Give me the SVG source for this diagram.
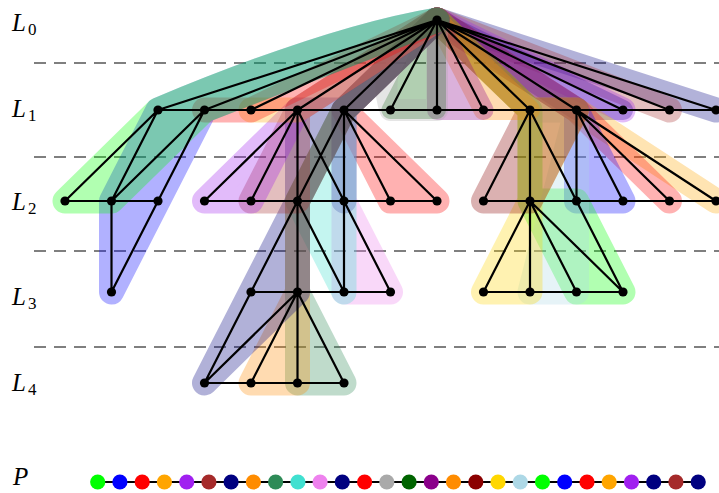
<svg xmlns="http://www.w3.org/2000/svg" width="719" height="493" viewBox="0 0 719 493">
<style>
.b{stroke-width:25;stroke-linejoin:round;stroke-linecap:round;opacity:.3}
.o{fill:none}
.e{stroke:#000;stroke-width:2.2;fill:none;stroke-linecap:round}
.d{stroke:#555;stroke-width:1.4;stroke-dasharray:12 8}
.n{fill:#000}
.lab{font-family:"Liberation Serif",serif;font-style:italic;font-size:25px;fill:#000}
.sub{font-style:normal;font-size:17px}
</style>
<rect width="719" height="493" fill="#fff"/>
<g id="layers">
<line class="d" x1="34" y1="63" x2="719" y2="63"/>
<line class="d" x1="34" y1="157" x2="719" y2="157"/>
<line class="d" x1="34" y1="251" x2="719" y2="251"/>
<line class="d" x1="34" y1="347" x2="719" y2="347"/>
<text class="lab" x="12" y="31">L<tspan class="sub" dx="2" dy="4">0</tspan></text>
<text class="lab" x="12" y="117">L<tspan class="sub" dx="2" dy="4">1</tspan></text>
<text class="lab" x="12" y="210">L<tspan class="sub" dx="2" dy="4">2</tspan></text>
<text class="lab" x="12" y="305">L<tspan class="sub" dx="2" dy="4">3</tspan></text>
<text class="lab" x="12" y="391">L<tspan class="sub" dx="2" dy="4">4</tspan></text>
<text class="lab" x="13" y="485">P</text>
</g>
<g id="branch-sets">
<path class="b o" stroke="#000080" d="M437,20 L716,110"/>
<path class="b o" stroke="#a52a2a" d="M437,20 L669.5,110"/>
<path class="b" stroke="#000080" fill="#000080" style="stroke-width:20" d="M437,20 L623,110 L576.5,110 Z"/>
<path class="b o" stroke="#a020f0" d="M437,20 L623,110"/>
<path class="b o" stroke="#ffa500" d="M437,20 L576.5,110 L716,201"/>
<path class="b o" stroke="#ff0000" d="M437,20 L576.5,110 L669.5,201"/>
<path class="b" stroke="#0000ff" fill="#0000ff" d="M437,20 L576.5,110 Z M576.5,110 L576.5,201 L623,201 Z"/>
<path class="b" stroke="#00ff00" fill="#00ff00" d="M437,20 L530,110 L530,201 L530,110 Z M530,201 L576.5,292 L623,292 L576.5,201 Z"/>
<path class="b" stroke="#add8e6" fill="#add8e6" d="M437,20 L530,110 L576.5,110 L530,110 Z M576.5,110 L530,292 L576.5,292 Z"/>
<path class="b" stroke="#ffd700" fill="#ffd700" d="M437,20 L530,110 Z M530,110 L576.5,110 L530,201 Z M530,201 L483.5,292 L530,292 Z"/>
<path class="b" stroke="#8b0000" fill="#8b0000" d="M437,20 L530,110 Z M530,110 L576.5,110 L530,201 L483.5,201 Z"/>
<path class="b" stroke="#ff8c00" fill="#ff8c00" style="stroke-width:20" d="M437,20 L483.5,110 L530,110 Z"/>
<path class="b" stroke="#8b008b" fill="#8b008b" style="stroke-width:20" d="M437,20 L437,110 L483.5,110 Z"/>
<path class="b" stroke="#006400" fill="#006400" style="stroke-width:18" d="M437,20 L390.5,110 L437,110 Z"/>
<path class="b o" stroke="#a9a9a9" style="stroke-width:22" d="M390.5,110 Q372,55 437,20 L437,110 L390.5,110"/>
<path class="b" stroke="#ff0000" fill="#ff0000" d="M437,20 L344,110 Z M344,110 L390.5,201 L437,201 Z"/>
<path class="b o" stroke="#000080" d="M437,20 L344,110 L344,201"/>
<path class="b" stroke="#ee82ee" fill="#ee82ee" d="M437,20 L344,110 L344,201 L344,110 Z M344,201 L390.5,292 L344,292 Z"/>
<path class="b" stroke="#40e0d0" fill="#40e0d0" d="M437,20 L344,110 Z M344,110 L297.5,201 L344,292 L344,201 Z"/>
<path class="b" stroke="#2e8b57" fill="#2e8b57" d="M437,20 L344,110 L297.5,201 L297.5,292 L297.5,201 L344,110 Z M297.5,292 L297.5,383 L344,383 Z"/>
<path class="b" stroke="#ff8c00" fill="#ff8c00" d="M437,20 L344,110 L297.5,201 L297.5,292 L297.5,201 L344,110 Z M297.5,292 L251,383 L297.5,383 Z"/>
<path class="b" stroke="#000080" fill="#000080" d="M437,20 L344,110 Z M344,110 L297.5,110 L297.5,201 Z M297.5,201 L251,292 L204.5,383 L297.5,292 Z"/>
<path class="b" stroke="#a52a2a" fill="#a52a2a" d="M437,20 L297.5,110 Z M297.5,110 L251,201 L297.5,201 Z"/>
<path class="b" stroke="#a020f0" fill="#a020f0" d="M437,20 L297.5,110 Z M297.5,110 L204.5,201 L251,201 Z"/>
<path class="b o" stroke="#ffa500" d="M437,20 L297.5,110 L251,110"/>
<path class="b o" stroke="#ff0000" d="M437,20 L251,110 L204.5,110"/>
<path class="b" stroke="#0000ff" fill="#0000ff" d="M437,20 Q330,38 158,110 L111.5,201 L111.5,292 L158,201 L204.5,110 Z"/>
<path class="b" stroke="#00ff00" fill="#00ff00" d="M437,20 Q330,38 158,110 L65,201 L111.5,201 L204.5,110 Z"/>
</g>
<g id="connectors">
<path class="e" d="M437,20 L158,110 M437,20 L204.5,110 M437,20 L251,110 M437,20 L297.5,110 M437,20 L344,110 M437,20 L390.5,110 M437,20 L437,110 M437,20 L483.5,110 M437,20 L530,110 M437,20 L576.5,110 M437,20 L623,110 M437,20 L669.5,110 M437,20 L716,110"/>
<path class="e" d="M158,110 L716,110 M65,201 L158,201 M204.5,201 L437,201 M483.5,201 L716,201 M251,292 L390.5,292 M483.5,292 L623,292 M204.5,383 L344,383"/>
<path class="e" d="M158,110 L65,201 M158,110 L111.5,201 M204.5,110 L111.5,201 M204.5,110 L158,201 M297.5,110 L204.5,201 M297.5,110 L251,201 M297.5,110 L297.5,201 M297.5,110 L344,201 M344,110 L297.5,201 M344,110 L344,201 M344,110 L390.5,201 M344,110 L437,201 M530,110 L483.5,201 M530,110 L530,201 M530,110 L576.5,201 M576.5,110 L576.5,201 M576.5,110 L623,201 M576.5,110 L669.5,201 M576.5,110 L716,201"/>
<path class="e" d="M111.5,201 L111.5,292 M158,201 L111.5,292 M297.5,201 L251,292 M297.5,201 L297.5,292 M297.5,201 L344,292 M344,201 L344,292 M344,201 L390.5,292 M530,201 L483.5,292 M530,201 L530,292 M530,201 L576.5,292 M530,201 L623,292 M576.5,201 L623,292"/>
<path class="e" d="M251,292 L204.5,383 M297.5,292 L204.5,383 M297.5,292 L251,383 M297.5,292 L297.5,383 M297.5,292 L344,383"/>
<path class="e" d="M97.7,482 L698.2,482"/>
</g>
<g id="graph-nodes">
<g id="v0"><circle class="n" cx="437" cy="20" r="4.6"/></g>
<g id="v1-158"><circle class="n" cx="158" cy="110" r="4.6"/></g>
<g id="v1-205"><circle class="n" cx="204.5" cy="110" r="4.6"/></g>
<g id="v1-251"><circle class="n" cx="251" cy="110" r="4.6"/></g>
<g id="v1-298"><circle class="n" cx="297.5" cy="110" r="4.6"/></g>
<g id="v1-344"><circle class="n" cx="344" cy="110" r="4.6"/></g>
<g id="v1-391"><circle class="n" cx="390.5" cy="110" r="4.6"/></g>
<g id="v1-437"><circle class="n" cx="437" cy="110" r="4.6"/></g>
<g id="v1-484"><circle class="n" cx="483.5" cy="110" r="4.6"/></g>
<g id="v1-530"><circle class="n" cx="530" cy="110" r="4.6"/></g>
<g id="v1-577"><circle class="n" cx="576.5" cy="110" r="4.6"/></g>
<g id="v1-623"><circle class="n" cx="623" cy="110" r="4.6"/></g>
<g id="v1-670"><circle class="n" cx="669.5" cy="110" r="4.6"/></g>
<g id="v1-716"><circle class="n" cx="716" cy="110" r="4.6"/></g>
<g id="v2-65"><circle class="n" cx="65" cy="201" r="4.6"/></g>
<g id="v2-112"><circle class="n" cx="111.5" cy="201" r="4.6"/></g>
<g id="v2-158"><circle class="n" cx="158" cy="201" r="4.6"/></g>
<g id="v2-205"><circle class="n" cx="204.5" cy="201" r="4.6"/></g>
<g id="v2-251"><circle class="n" cx="251" cy="201" r="4.6"/></g>
<g id="v2-298"><circle class="n" cx="297.5" cy="201" r="4.6"/></g>
<g id="v2-344"><circle class="n" cx="344" cy="201" r="4.6"/></g>
<g id="v2-391"><circle class="n" cx="390.5" cy="201" r="4.6"/></g>
<g id="v2-437"><circle class="n" cx="437" cy="201" r="4.6"/></g>
<g id="v2-484"><circle class="n" cx="483.5" cy="201" r="4.6"/></g>
<g id="v2-530"><circle class="n" cx="530" cy="201" r="4.6"/></g>
<g id="v2-577"><circle class="n" cx="576.5" cy="201" r="4.6"/></g>
<g id="v2-623"><circle class="n" cx="623" cy="201" r="4.6"/></g>
<g id="v2-670"><circle class="n" cx="669.5" cy="201" r="4.6"/></g>
<g id="v2-716"><circle class="n" cx="716" cy="201" r="4.6"/></g>
<g id="v3-112"><circle class="n" cx="111.5" cy="292" r="4.6"/></g>
<g id="v3-251"><circle class="n" cx="251" cy="292" r="4.6"/></g>
<g id="v3-298"><circle class="n" cx="297.5" cy="292" r="4.6"/></g>
<g id="v3-344"><circle class="n" cx="344" cy="292" r="4.6"/></g>
<g id="v3-391"><circle class="n" cx="390.5" cy="292" r="4.6"/></g>
<g id="v3-484"><circle class="n" cx="483.5" cy="292" r="4.6"/></g>
<g id="v3-530"><circle class="n" cx="530" cy="292" r="4.6"/></g>
<g id="v3-577"><circle class="n" cx="576.5" cy="292" r="4.6"/></g>
<g id="v3-623"><circle class="n" cx="623" cy="292" r="4.6"/></g>
<g id="v4-205"><circle class="n" cx="204.5" cy="383" r="4.6"/></g>
<g id="v4-251"><circle class="n" cx="251" cy="383" r="4.6"/></g>
<g id="v4-298"><circle class="n" cx="297.5" cy="383" r="4.6"/></g>
<g id="v4-344"><circle class="n" cx="344" cy="383" r="4.6"/></g>
</g>
<g id="path-P">
<g id="p1"><circle cx="97.7" cy="482" r="7.6" fill="#00ff00"/></g>
<g id="p2"><circle cx="119.9" cy="482" r="7.6" fill="#0000ff"/></g>
<g id="p3"><circle cx="142.2" cy="482" r="7.6" fill="#ff0000"/></g>
<g id="p4"><circle cx="164.4" cy="482" r="7.6" fill="#ffa500"/></g>
<g id="p5"><circle cx="186.7" cy="482" r="7.6" fill="#a020f0"/></g>
<g id="p6"><circle cx="208.9" cy="482" r="7.6" fill="#a52a2a"/></g>
<g id="p7"><circle cx="231.1" cy="482" r="7.6" fill="#000080"/></g>
<g id="p8"><circle cx="253.4" cy="482" r="7.6" fill="#ff8c00"/></g>
<g id="p9"><circle cx="275.6" cy="482" r="7.6" fill="#2e8b57"/></g>
<g id="p10"><circle cx="297.9" cy="482" r="7.6" fill="#40e0d0"/></g>
<g id="p11"><circle cx="320.1" cy="482" r="7.6" fill="#ee82ee"/></g>
<g id="p12"><circle cx="342.3" cy="482" r="7.6" fill="#000080"/></g>
<g id="p13"><circle cx="364.6" cy="482" r="7.6" fill="#ff0000"/></g>
<g id="p14"><circle cx="386.8" cy="482" r="7.6" fill="#a9a9a9"/></g>
<g id="p15"><circle cx="409.1" cy="482" r="7.6" fill="#006400"/></g>
<g id="p16"><circle cx="431.3" cy="482" r="7.6" fill="#8b008b"/></g>
<g id="p17"><circle cx="453.5" cy="482" r="7.6" fill="#ff8c00"/></g>
<g id="p18"><circle cx="475.8" cy="482" r="7.6" fill="#8b0000"/></g>
<g id="p19"><circle cx="498.0" cy="482" r="7.6" fill="#ffd700"/></g>
<g id="p20"><circle cx="520.3" cy="482" r="7.6" fill="#add8e6"/></g>
<g id="p21"><circle cx="542.5" cy="482" r="7.6" fill="#00ff00"/></g>
<g id="p22"><circle cx="564.7" cy="482" r="7.6" fill="#0000ff"/></g>
<g id="p23"><circle cx="587.0" cy="482" r="7.6" fill="#ff0000"/></g>
<g id="p24"><circle cx="609.2" cy="482" r="7.6" fill="#ffa500"/></g>
<g id="p25"><circle cx="631.5" cy="482" r="7.6" fill="#a020f0"/></g>
<g id="p26"><circle cx="653.7" cy="482" r="7.6" fill="#000080"/></g>
<g id="p27"><circle cx="675.9" cy="482" r="7.6" fill="#a52a2a"/></g>
<g id="p28"><circle cx="698.2" cy="482" r="7.6" fill="#000080"/></g>
</g>
</svg>
